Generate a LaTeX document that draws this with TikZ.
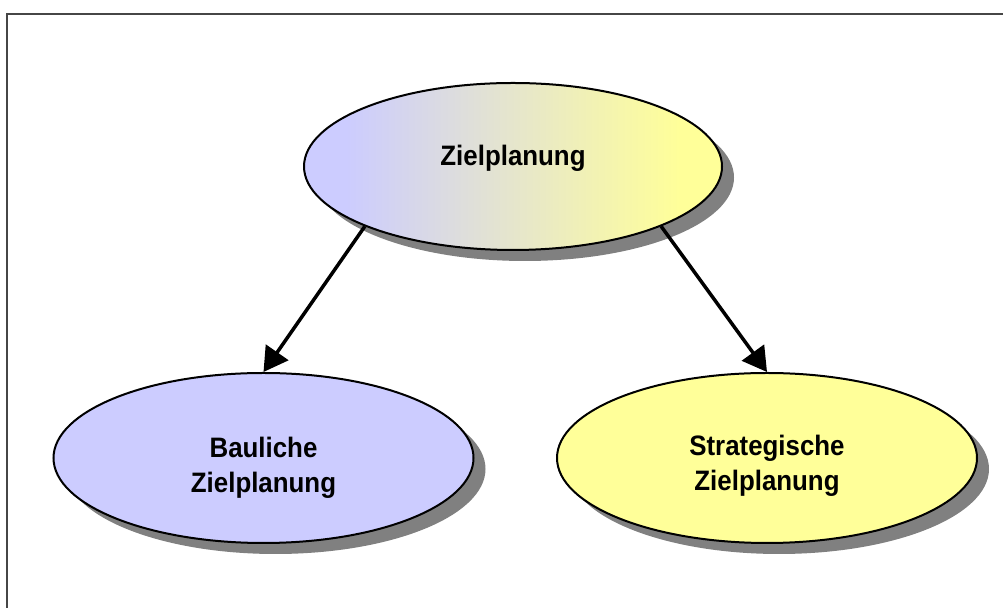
\documentclass[tikz,border=0pt]{standalone}
\usepackage{fontspec}
\setmainfont[FakeStretch=0.92]{Liberation Sans}
\usetikzlibrary{shapes.geometric,shadows,arrows.meta}

\definecolor{lavendel}{RGB}{204,204,255}
\definecolor{zitrone}{RGB}{255,255,153}
\definecolor{rahmen}{RGB}{70,70,70}
\definecolor{schatten}{RGB}{128,128,128}
\pgfdeclarehorizontalshading{zielverlauf}{100bp}{color(0bp)=(lavendel); color(30bp)=(lavendel); color(70bp)=(zitrone); color(100bp)=(zitrone)}

\tikzset{
  ziel/.style={ellipse, draw=black, line width=0.04cm, minimum width=8.4cm, minimum height=3.4cm, inner sep=0pt,
    drop shadow={shadow xshift=0.24cm, shadow yshift=-0.22cm, fill=schatten, opacity=1}},
  zieltext/.style={font=\fontsize{16}{20}\selectfont\bfseries, align=center, text=black},
  pfeil/.style={-{Triangle[length=0.48cm,width=0.54cm]}, line width=0.07cm}
}

\begin{document}
\begin{tikzpicture}
\useasboundingbox (0,0) rectangle (20.06,12.16);

\draw[rahmen, line width=0.05cm] (20.06,11.88) -- (0.14,11.88) -- (0.14,0);

\node[ziel, shading=zielverlauf, minimum width=8.36cm, minimum height=3.34cm] (zp) at (10.26,8.83) {};
\node[ziel, fill=lavendel] (bau) at (5.27,3.0) {};
\node[ziel, fill=zitrone] (strat) at (15.34,3.0) {};

\node[zieltext] (zptext) at ([yshift=0.17cm]zp.center) {Zielplanung};
\node[zieltext] (bautext) at ([yshift=-0.2cm]bau.center) {Bauliche\\Zielplanung};
\node[zieltext] (strattext) at ([yshift=-0.15cm]strat.center) {Strategische\\Zielplanung};

\draw[pfeil] (zp.202) -- (bau.north);
\draw[pfeil] (zp.338) -- (strat.north);
\end{tikzpicture}
\end{document}
